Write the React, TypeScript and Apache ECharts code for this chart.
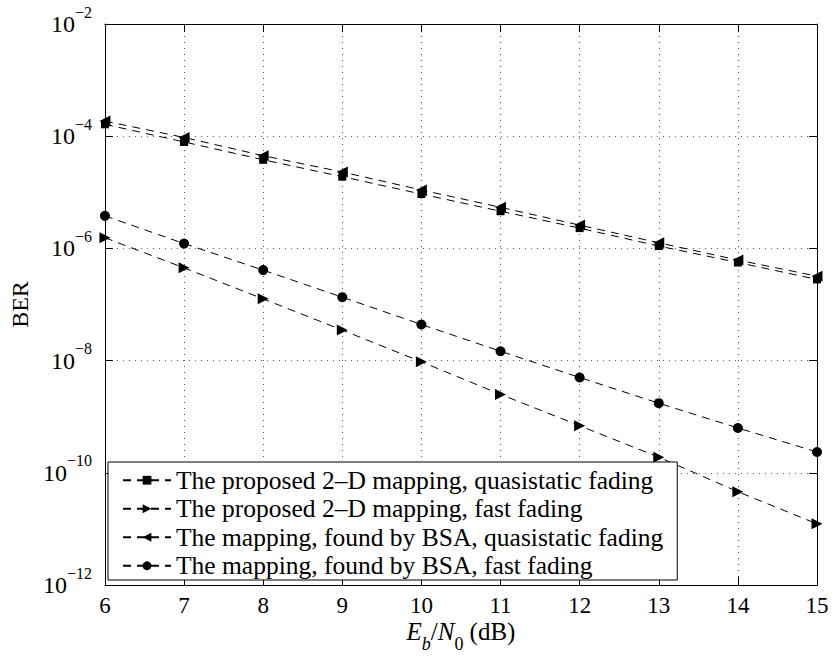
import React, { useEffect, useRef } from "react";
import * as echarts from "echarts";

const snr = [6, 7, 8, 9, 10, 11, 12, 13, 14, 15];
const proposedQuasi = [1.63e-4, 7.9e-5, 3.8e-5, 1.9e-5, 9.3e-6, 4.6e-6, 2.3e-6, 1.1e-6, 5.6e-7, 2.8e-7];
const proposedFast = [1.55e-6, 4.5e-7, 1.26e-7, 3.5e-8, 9.5e-9, 2.5e-9, 6.9e-10, 1.9e-10, 4.6e-11, 1.23e-11];
const bsaQuasi = [1.86e-4, 9.5e-5, 4.5e-5, 2.3e-5, 1.1e-5, 5.4e-6, 2.6e-6, 1.26e-6, 6.2e-7, 3.2e-7];
const bsaFast = [3.8e-6, 1.22e-6, 4.1e-7, 1.35e-7, 4.4e-8, 1.47e-8, 5.0e-9, 1.74e-9, 6.3e-10, 2.35e-10];
const seriesNames = [
  "The proposed 2\u2013D mapping, quasistatic fading",
  "The proposed 2\u2013D mapping, fast fading",
  "The mapping, found by BSA, quasistatic fading",
  "The mapping, found by BSA, fast fading",
];
const xMin = 6;
const xMax = 15;
const yMin = 1e-12;
const yMax = 1e-2;

const FONT = "'Liberation Serif', 'Times New Roman', serif";

export default function App() {
  const ref = useRef<HTMLDivElement>(null);
  useEffect(() => {
    if (!ref.current) return;
    const chart = echarts.init(ref.current, undefined, { renderer: "svg" });
    const lineStyle = { color: "#000", width: 1, type: [8, 6] as number[] };
    const mk = (name: string, vals: number[], symbol: string, size: number | number[]) => ({
      name,
      type: "line",
      data: snr.map((x, i) => [x, vals[i]]),
      symbol,
      symbolSize: size,
      showAllSymbol: true,
      lineStyle,
      itemStyle: { color: "#000" },
      emphasis: { disabled: true },
    });
    const splitLine = { show: true, lineStyle: { color: "#555", width: 1, type: [1, 5] } };
    const axisLine = { show: true, onZero: false, lineStyle: { color: "#000", width: 1 } };
    const axisTick = { show: true, inside: true, length: 8, lineStyle: { color: "#000", width: 1 } };
    chart.setOption({
      animation: false,
      backgroundColor: "#fff",
      grid: { left: 101, top: 24, width: 716, height: 565, containLabel: false },
      legend: {
        orient: "vertical",
        left: 108,
        top: 462,
        padding: [4, 14, 0, 14],
        itemGap: 0,
        itemWidth: 48,
        itemHeight: 11,
        backgroundColor: "#fff",
        borderColor: "#000",
        borderWidth: 1,
        borderRadius: 0,
        textStyle: { fontFamily: FONT, fontSize: 25.5, color: "#000", lineHeight: 28.5 },
        data: seriesNames,
      },
      xAxis: [
        {
          type: "value",
          min: xMin,
          max: xMax,
          interval: 1,
          position: "bottom",
          axisLine,
          axisTick,
          splitLine,
          axisLabel: { fontFamily: FONT, fontSize: 23, lineHeight: 18, color: "#000", margin: 11 },
          name: "{i|E}{ib|b}{n|/}{i|N}{sb|0}{n| (dB)}",
          nameLocation: "middle",
          nameGap: 34,
          nameMoveOverlap: false,
          nameTextStyle: {
            verticalAlign: "top",
            rich: {
              i: { fontFamily: FONT, fontStyle: "italic", fontSize: 25, lineHeight: 25, verticalAlign: "top", color: "#000" },
              n: { fontFamily: FONT, fontSize: 25, lineHeight: 25, verticalAlign: "top", color: "#000" },
              ib: { fontFamily: FONT, fontStyle: "italic", fontSize: 18, lineHeight: 34, verticalAlign: "bottom", color: "#000" },
              sb: { fontFamily: FONT, fontSize: 18, lineHeight: 34, verticalAlign: "bottom", color: "#000" },
            },
          },
        },
        {
          type: "value",
          min: xMin,
          max: xMax,
          interval: 1,
          position: "top",
          axisLine,
          axisTick,
          splitLine: { show: false },
          axisLabel: { show: false },
        },
      ],
      yAxis: [
        {
          type: "log",
          logBase: 10,
          min: yMin,
          max: yMax,
          interval: 2,
          position: "left",
          axisLine,
          axisTick,
          splitLine,
          minorTick: { show: false },
          axisLabel: {
            margin: 13,
            formatter: (v: number) => {
              const e = Math.round(Math.log10(v));
              return `{b|10}{s|${e < 0 ? "\u2212" : ""}${Math.abs(e)}}`;
            },
            rich: {
              b: { fontFamily: FONT, fontSize: 24, lineHeight: 40, verticalAlign: "middle", color: "#000" },
              s: { fontFamily: FONT, fontSize: 16, lineHeight: 16, verticalAlign: "top", color: "#000" },
            },
          },
          name: "BER",
          nameLocation: "middle",
          nameRotate: 90,
          nameGap: 64,
          nameTextStyle: { fontFamily: FONT, fontSize: 24, color: "#000" },
        },
        {
          type: "log",
          logBase: 10,
          min: yMin,
          max: yMax,
          interval: 2,
          position: "right",
          axisLine,
          axisTick,
          splitLine: { show: false },
          axisLabel: { show: false },
        },
      ],
      series: [
        mk(seriesNames[0], proposedQuasi, "rect", 8),
        mk(seriesNames[1], proposedFast, "path://M0,0L10,5L0,10Z", 11),
        mk(seriesNames[2], bsaQuasi, "path://M10,0L0,5L10,10Z", 11),
        mk(seriesNames[3], bsaFast, "circle", 10),
      ],
    });
    return () => chart.dispose();
  }, []);
  return (
    <div
      ref={ref}
      style={{ position: "absolute", left: 0, top: 0, width: 832, height: 658, background: "#fff" }}
    />
  );
}
